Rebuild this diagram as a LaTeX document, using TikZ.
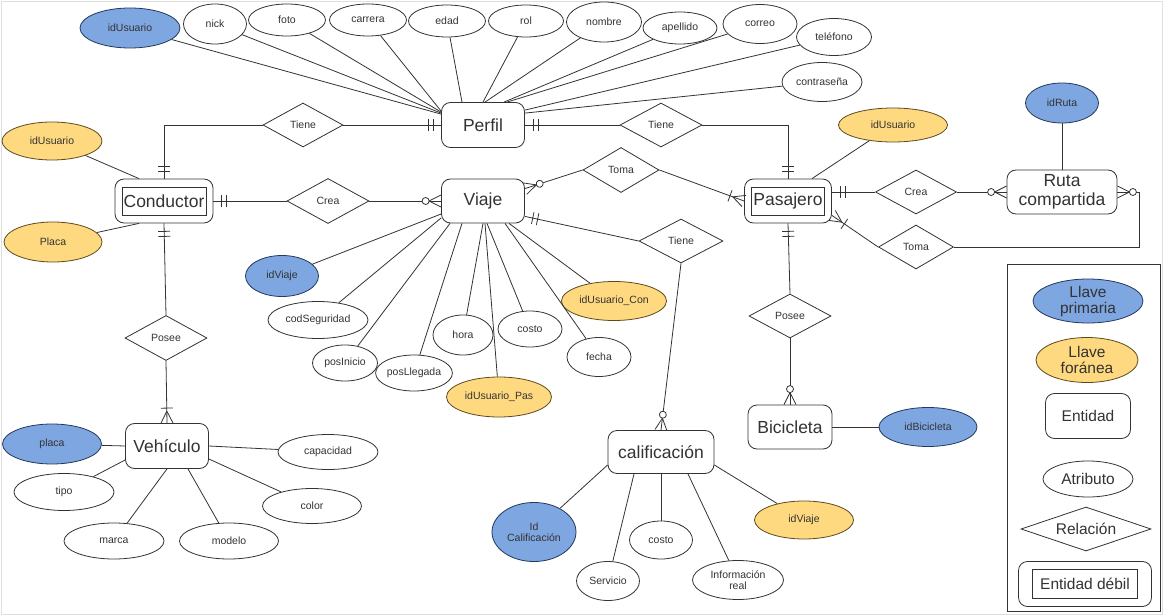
\documentclass[tikz,border=0pt]{standalone}
\usepackage{fontspec}
\setmainfont{Liberation Sans}
\usetikzlibrary{shapes.geometric,decorations.markings}

\definecolor{ink}{HTML}{333333}
\definecolor{pkfill}{HTML}{7EA6E0}
\definecolor{pkline}{HTML}{24375C}
\definecolor{fkfill}{HTML}{FFD97F}
\definecolor{fkline}{HTML}{5C4A1E}

\newcommand{\erAttrFont}{\fontsize{10.5}{11}\selectfont}
\newcommand{\erEntFont}{\fontsize{17.5}{19}\selectfont}
\newcommand{\erLegFont}{\fontsize{15.5}{16}\selectfont}

\tikzset{
  attr/.style 2 args={ellipse, draw, fill=white, minimum width=#1pt, minimum height=#2pt,
    inner sep=0pt, font=\erAttrFont, align=center},
  pk/.style 2 args={attr={#1}{#2}, fill=pkfill, draw=pkline},
  fk/.style 2 args={attr={#1}{#2}, fill=fkfill, draw=fkline},
  entity/.style 2 args={rectangle, rounded corners=9pt, draw, fill=white,
    minimum width=#1pt, minimum height=#2pt, inner sep=0pt, font=\erEntFont, align=center},
  weakent/.style n args={3}{entity={#1}{#2},
    path picture={\draw[sharp corners]
      ([shift={(#3pt,-8pt)}]path picture bounding box.north west) rectangle
      ([shift={(-#3pt,8pt)}]path picture bounding box.south east);}},
  relation/.style 2 args={diamond, draw, fill=white, minimum width=#1pt, minimum height=#2pt,
    inner sep=0pt, aspect=2, font=\erAttrFont},
  % cardinality marks (crow's foot notation)
  startone/.style={postaction={decorate, decoration={markings, mark=at position 0 with
    {\draw (8pt,-6pt)--(8pt,6pt) (13pt,-6pt)--(13pt,6pt);}}}},
  endone/.style={postaction={decorate, decoration={markings, mark=at position 1 with
    {\draw (-7pt,-6pt)--(-7pt,6pt) (-12pt,-6pt)--(-12pt,6pt);}}}},
  endzm/.style={postaction={decorate, decoration={markings, mark=at position 1 with
    {\draw (-12pt,0pt)--(0pt,6pt) (-12pt,0pt)--(0pt,-6pt);
     \draw[fill=white] (-15.5pt,0pt) circle (3.5pt);}}}},
  endom/.style={postaction={decorate, decoration={markings, mark=at position 1 with
    {\draw (-12pt,0pt)--(0pt,6pt) (-12pt,0pt)--(0pt,-6pt) (-15pt,-6pt)--(-15pt,6pt);}}}},
}

\begin{document}
\begin{tikzpicture}[x=1pt, y=-1pt, line width=0.8pt, color=ink]
\useasboundingbox (0,0) rectangle (1163,615);
\draw[gray!25, line width=0.6pt] (1,1) rectangle (1162,614);

% ---------- entities ----------
\node[entity={83}{45}] (perfil) at (483,125) {Perfil};
\node[weakent={98}{44}{7}] (conductor) at (164,201) {Conductor};
\node[entity={83}{44}] (viaje) at (483,201) {Viaje};
\node[weakent={87}{44}{7}] (pasajero) at (788,201) {Pasajero};
\node[entity={110}{44}] (ruta) at (1062,192) {Ruta\\compartida};
\node[entity={83}{45}] (vehiculo) at (167,446) {Vehículo};
\node[entity={106}{43}] (calif) at (661,452) {calificación};
\node[entity={84}{44}] (bici) at (790,427) {Bicicleta};

% ---------- relations ----------
\node[relation={80}{44}] (tieneL) at (303,125) {Tiene};
\node[relation={82}{44}] (tieneR) at (661,125) {Tiene};
\node[relation={82}{45}] (creaL) at (328,201) {Crea};
\node[relation={76}{45}] (tomaM) at (621,170) {Toma};
\node[relation={84}{44}] (tieneM) at (681,241) {Tiene};
\node[relation={81}{44}] (creaR) at (916,192) {Crea};
\node[relation={75}{44}] (tomaR) at (916,247) {Toma};
\node[relation={82}{45}] (poseeL) at (166,338) {Posee};
\node[relation={82}{44}] (poseeR) at (790,316) {Posee};

% ---------- Perfil attributes ----------
\node[pk={100}{40}] (pIdU) at (130,28) {idUsuario};
\node[attr={63}{40}] (pNick) at (215,24) {nick};
\node[attr={77}{32}] (pFoto) at (287,20) {foto};
\node[attr={77}{32}] (pCarrera) at (368,20) {carrera};
\node[attr={77}{32}] (pEdad) at (447,21) {edad};
\node[attr={75}{32}] (pRol) at (526,21) {rol};
\node[attr={75}{40}] (pNombre) at (604,22) {nombre};
\node[attr={74}{32}] (pApellido) at (680,28) {apellido};
\node[attr={74}{39}] (pCorreo) at (760,24) {correo};
\node[attr={75}{37}] (pTel) at (834,37) {teléfono};
\node[attr={80}{39}] (pPass) at (822,82) {contraseña};

\draw (pIdU) -- ([yshift=-12pt]perfil.north west);
\draw (pNick) -- ([yshift=-11pt]perfil.north west);
\draw (pFoto) -- ([yshift=-10pt]perfil.north west);
\draw (pCarrera) -- ([yshift=-9pt]perfil.north west);
\draw (pEdad) -- ([xshift=-21pt]perfil.north);
\draw (pRol) -- (perfil.north);
\draw (pNombre) -- ([xshift=2pt]perfil.north);
\draw (pApellido) -- ([xshift=21pt]perfil.north);
\draw (pCorreo) -- ([xshift=24pt]perfil.north);
\draw (pTel) -- ([yshift=-8pt]perfil.north east);
\draw (pPass) -- ([yshift=-11pt]perfil.north east);

% ---------- Conductor attributes ----------
\node[fk={100}{38}] (cIdU) at (52,141) {idUsuario};
\node[fk={98}{40}] (cPlaca) at (53,242) {Placa};
\draw (cIdU) -- ([xshift=-25pt]conductor.north);
\draw (cPlaca) -- ([xshift=-25pt]conductor.south);

% ---------- Pasajero / Ruta attributes ----------
\node[fk={109}{34}] (sIdU) at (893,125) {idUsuario};
\draw (sIdU) -- ([xshift=24pt]pasajero.north);
\node[pk={73}{40}] (rId) at (1062,103) {idRuta};
\draw (rId) -- (ruta);

% ---------- Viaje attributes ----------
\node[pk={73}{41}] (vId) at (282,276) {idViaje};
\node[attr={100}{37}] (vCod) at (318,320) {codSeguridad};
\node[attr={65}{36}] (vIni) at (345,363) {posInicio};
\node[attr={73}{36}] (vLleg) at (414,373) {posLlegada};
\node[attr={60}{40}] (vHora) at (463,335) {hora};
\node[attr={64}{36}] (vCosto) at (530,329) {costo};
\node[attr={64}{39}] (vFecha) at (599,357) {fecha};
\node[fk={105}{40}] (vPas) at (499,397) {idUsuario\_Pas};
\node[fk={105}{39}] (vCon) at (614,301) {idUsuario\_Con};

\draw (vId) -- ([yshift=-13pt]viaje.west);
\draw (vCod) -- ([yshift=-17pt]viaje.west);
\draw (vIni) -- ([xshift=-33pt]viaje.south);
\draw (vLleg) -- ([xshift=-21pt]viaje.south);
\draw (vHora) -- (viaje.south);
\draw (vPas) -- ([xshift=2pt]viaje.south);
\draw (vCosto) -- ([xshift=4pt]viaje.south);
\draw (vFecha) -- ([xshift=22pt]viaje.south);
\draw (vCon) -- ([xshift=26pt]viaje.south);

% ---------- Vehículo attributes ----------
\node[pk={99}{40}] (hPlaca) at (52,444) {placa};
\node[attr={100}{37}] (hTipo) at (64,492) {tipo};
\node[attr={100}{36}] (hMarca) at (114,541) {marca};
\node[attr={99}{36}] (hModelo) at (229,541) {modelo};
\node[attr={99}{35}] (hColor) at (312,506) {color};
\node[attr={100}{35}] (hCap) at (328,452) {capacidad};

\draw (hPlaca) -- (vehiculo.west);
\draw (hTipo) -- ([yshift=-14pt]vehiculo.west);
\draw (hMarca) -- (vehiculo.south);
\draw (hModelo) -- ([xshift=21pt]vehiculo.south);
\draw (hColor) -- ([yshift=-13pt]vehiculo.east);
\draw (hCap) -- (vehiculo.east);

% ---------- calificación attributes ----------
\node[pk={84}{59}] (kId) at (534,532) {Id\\Calificación};
\node[attr={63}{39}] (kServ) at (608,581) {Servicio};
\node[attr={63}{38}] (kCosto) at (661,540) {costo};
\node[attr={91}{39}] (kInfo) at (738,580) {Información\\real};
\node[fk={99}{38}] (kViaje) at (804,520) {idViaje};

\draw (kId) -- ([yshift=-13pt]calif.west);
\draw (kServ) -- ([xshift=-27pt]calif.south);
\draw (kCosto) -- (calif.south);
\draw (kInfo) -- ([xshift=27pt]calif.south);
\draw (kViaje) -- ([yshift=-13pt]calif.east);

% ---------- Bicicleta attribute ----------
\node[pk={98}{39}] (bId) at (928,427) {idBicicleta};
\draw (bici) -- (bId);

% ---------- relationships ----------
\draw[startone] (perfil.west) -- (tieneL.east);
\draw[endone] (tieneL.west) -| (conductor.north);
\draw[startone] (perfil.east) -- (tieneR.west);
\draw[endone] (tieneR.east) -| (pasajero.north);

\draw[startone] (conductor.east) -- (creaL.west);
\draw[endzm] (creaL.east) -- (viaje.west);

\draw[startone] (conductor.south) -- (poseeL.north);
\draw[endom] (poseeL.south) -- (vehiculo.north);

\draw[endzm] (tomaM.west) -- ([yshift=-10pt]viaje.north east);
\draw[endom] (tomaM.east) -- (pasajero.west);

\draw[startone] ([yshift=7pt]viaje.south east) -- (tieneM.west);
\draw[endzm] (tieneM.south) -- (calif.north);

\draw[startone] ([yshift=9pt]pasajero.east) -- (creaR.west);
\draw[endzm] (creaR.east) -- (ruta.west);

\coordinate (rutaBend) at (1139,247);
\draw[endzm] (tomaR.east) -- (rutaBend) |- (ruta.east);
\draw[endom] (tomaR.west) -- ([yshift=8pt]pasajero.south east);

\draw[startone] (pasajero.south) -- (poseeR.north);
\draw[endzm] (poseeR.south) -- (bici.north);

% ---------- legend ----------
\node[draw, rectangle, minimum width=153pt, minimum height=347pt, inner sep=0pt] (legend) at (1083.5,437.5) {};
\node[pk={110}{44}, font=\erLegFont] (lgPk) at (1088,301) {Llave\\primaria};
\node[fk={102}{45}, font=\erLegFont] (lgFk) at (1087,360) {Llave\\foránea};
\node[entity={85}{45}, font=\erLegFont] (lgEnt) at (1088,416) {Entidad};
\node[attr={90}{36}, font=\erLegFont] (lgAttr) at (1088,479) {Atributo};
\node[relation={130}{44}, aspect=3.2, font=\erLegFont] (lgRel) at (1086,529) {Relación};
\node[weakent={133}{45}{14}, font=\erLegFont] (lgWeak) at (1085,584) {Entidad débil};
\end{tikzpicture}
\end{document}
